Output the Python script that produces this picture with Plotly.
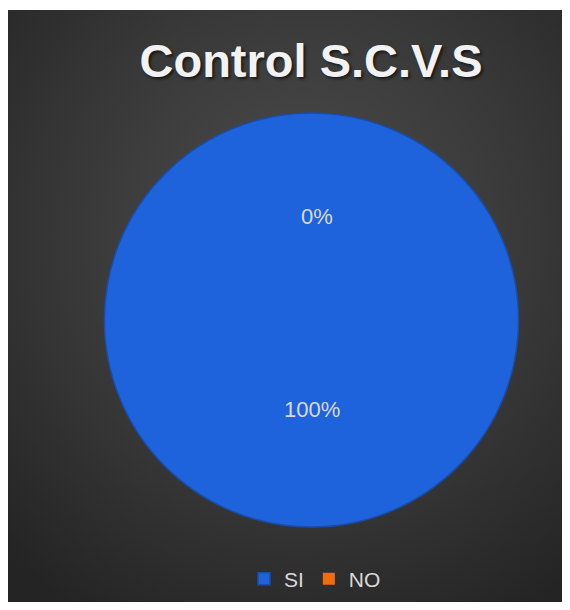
import base64
import math
import plotly.graph_objects as go

# data
labels = ["SI", "NO"]
values = [100, 0]
colors = ["#1f63dc", "#f26b0f"]
title_text = "Control S.C.V.S"

# the page body adds an 8px margin, so the figure starts at (8, 8)
OFF = 8
W, H = 562, 594
T = 2  # thin white strip on top
PW, PH = W, H - T

# pie geometry in page pixels
cx, cy, R = 311.5, 320, 207


def px_to_paper(x, y):
    return (x - OFF) / PW, 1 - (y - OFF - T) / PH


# radial gradient background as an svg image
svg = f"""<svg xmlns='http://www.w3.org/2000/svg' viewBox='0 0 {PW} {PH}' preserveAspectRatio='none'>
<defs><radialGradient id='g' cx='52%' cy='38%' r='75%'>
<stop offset='0%' stop-color='#4d4d4d'/>
<stop offset='55%' stop-color='#383838'/>
<stop offset='100%' stop-color='#242424'/>
</radialGradient></defs>
<rect width='{PW}' height='{PH}' fill='url(#g)'/></svg>"""
bg_src = "data:image/svg+xml;base64," + base64.b64encode(svg.encode()).decode()

x0, y1 = px_to_paper(cx - R, cy - R)
x1, y0 = px_to_paper(cx + R, cy + R)

fig = go.Figure(go.Pie(
    labels=labels,
    values=values,
    sort=False,
    direction="clockwise",
    rotation=0,
    marker=dict(colors=colors, line=dict(color="#1a4da8", width=[1.5, 0])),
    textinfo="none",
    hoverinfo="label+percent",
    domain=dict(x=[x0, x1], y=[y0, y1]),
))

# percentage labels at half radius along each slice's middle angle
total = sum(values)
annotations = []
start = 0.0
for lab, v in zip(labels, values):
    frac = v / total
    mid = (start + frac / 2) * 2 * math.pi
    start += frac
    r = 0.5 * R
    tx = cx + r * math.sin(mid) + (5 if frac == 0 else 0)
    ty = cy - r * math.cos(mid)
    ax, ay = px_to_paper(tx, ty)
    annotations.append(dict(
        x=ax, y=ay, xref="paper", yref="paper", showarrow=False,
        text=f"{round(frac * 100)}%",
        font=dict(size=22, color="#d9d9d9", family="Liberation Sans, Arial"),
    ))

fig.update_layout(
    width=W,
    height=H,
    margin=dict(l=0, r=0, t=T, b=0),
    paper_bgcolor="white",
    images=[dict(
        source=bg_src, xref="paper", yref="paper", x=0, y=1,
        sizex=1, sizey=1, xanchor="left", yanchor="top",
        sizing="stretch", layer="below",
    )],
    title=dict(
        text=title_text,
        x=(311 - OFF) / W, xanchor="center",
        y=1 - (61 - OFF) / H, yanchor="middle",
        font=dict(size=47, color="#f2f2f2", family="Liberation Sans, Arial",
                  weight="bold", shadow="2px 2px 3px rgba(0,0,0,0.6)"),
    ),
    legend=dict(
        orientation="h",
        x=(315 - OFF) / PW, xanchor="center",
        y=1 - (579 - OFF - T) / PH, yanchor="middle",
        font=dict(size=21, color="#d9d9d9", family="Liberation Sans, Arial"),
        bgcolor="rgba(0,0,0,0)",
    ),
    annotations=annotations,
)

fig.write_html("out.html")
